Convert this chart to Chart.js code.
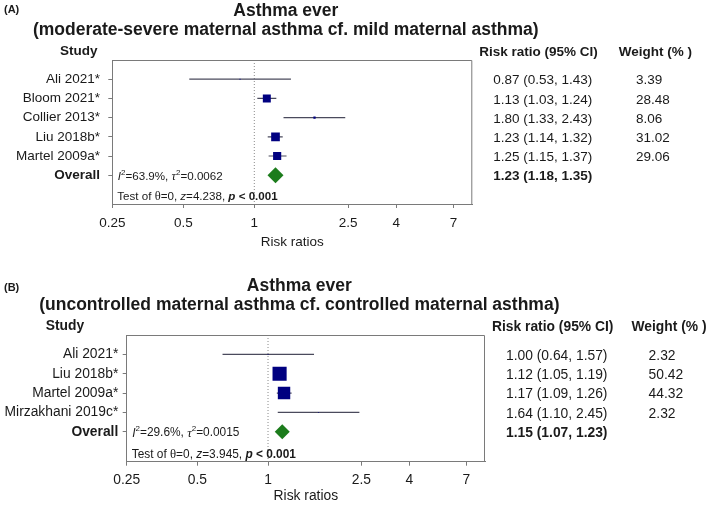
<!DOCTYPE html>
<html><head><meta charset="utf-8">
<script src="https://cdn.jsdelivr.net/npm/chart.js@4.4.0/dist/chart.umd.min.js"></script>
<style>
html,body{margin:0;padding:0;background:#fff;}
.panel{position:relative;width:709px;height:253px;}
</style></head><body>
<div class="panel"><canvas id="chartA"></canvas></div>
<div class="panel"><canvas id="chartB"></canvas></div>
<script>
// ---------- data ----------
const xTickValues = [0.25, 0.5, 1, 2.5, 4, 7];
const xTickLabels = ['0.25', '0.5', '1', '2.5', '4', '7'];

// Panel A: moderate-severe vs mild maternal asthma
const studiesA = ['Ali 2021*', 'Bloom 2021*', 'Collier 2013*', 'Liu 2018b*', 'Martel 2009a*'];
const rrA      = [0.87, 1.13, 1.80, 1.23, 1.25];
const lowA     = [0.53, 1.03, 1.33, 1.14, 1.15];
const highA    = [1.43, 1.24, 2.43, 1.32, 1.37];
const weightA  = [3.39, 28.48, 8.06, 31.02, 29.06];
const overallA = [1.23, 1.18, 1.35];            // RR, low, high
const statsA   = ['63.9%', '0.0062', '4.238', '< 0.001']; // I2, tau2, z, p
const titleA   = ['Asthma ever', '(moderate-severe maternal asthma cf. mild maternal asthma)'];

// Panel B: uncontrolled vs controlled maternal asthma
const studiesB = ['Ali 2021*', 'Liu 2018b*', 'Martel 2009a*', 'Mirzakhani 2019c*'];
const rrB      = [1.00, 1.12, 1.17, 1.64];
const lowB     = [0.64, 1.05, 1.09, 1.10];
const highB    = [1.57, 1.19, 1.26, 2.45];
const weightB  = [2.32, 50.42, 44.32, 2.32];
const overallB = [1.15, 1.07, 1.23];
const statsB   = ['29.6%', '0.0015', '3.945', '< 0.001'];
const titleB   = ['Asthma ever', '(uncontrolled maternal asthma cf. controlled maternal asthma)'];

// ---------- drawing ----------
const FONT = "'Liberation Sans', Arial, sans-serif";
const SERIF = "'Liberation Serif', 'Times New Roman', serif";
const TXT = '#1a1a1a';
const AXIS = '#7a7a7a';

function f(px, style) { return (style ? style + ' ' : '') + px + 'px ' + FONT; }

function rich(ctx, x, y, parts) {
  let cx = x;
  for (const p of parts) {
    ctx.font = p.font;
    ctx.fillText(p.t, cx, y + (p.dy || 0));
    cx += ctx.measureText(p.t).width;
  }
}

function buildChart(id, d, L) {
  const n = d.studies.length;
  const rowLabels = d.studies.concat(['Overall']);
  const yMin = -1, yMax = n + L.yExtra;
  const s = L.fs;               // font scale
  const base = 13.5 * s, small = 11.6 * s;

  const datasets = [];
  datasets.push({
    type: 'scatter', order: 0,
    data: d.rr.map((v, i) => ({x: v, y: i})),
    pointStyle: 'rect',
    pointRadius: d.weight.map(w => Math.max(w * 0.198, 0.6)),
    backgroundColor: '#000080', borderWidth: 0
  });
  datasets.push({
    type: 'scatter', order: 0,
    data: [{x: d.overall[0], y: n}],
    pointStyle: 'rectRot', pointRadius: L.diamond,
    backgroundColor: '#1c7c1c', borderWidth: 0
  });
  d.rr.forEach((v, i) => {
    datasets.push({
      type: 'line', order: 1,
      data: [{x: d.low[i], y: i}, {x: d.high[i], y: i}],
      borderColor: '#4a4a5c', borderWidth: 1.2, pointRadius: 0, fill: false
    });
  });
  datasets.push({
    type: 'line', order: 2,
    data: [{x: 1, y: yMin}, {x: 1, y: yMax}],
    borderColor: '#8a8a8a', borderWidth: 1, borderDash: [1, 2], pointRadius: 0, fill: false
  });

  const textPlugin = {
    id: 'texts' + id,
    afterDraw(chart) {
      const ctx = chart.ctx, ca = chart.chartArea, ys = chart.scales.y;
      ctx.save();
      // box frame (top + right)
      ctx.strokeStyle = AXIS; ctx.lineWidth = 1;
      ctx.beginPath();
      ctx.moveTo(ca.left, ca.top + 0.5); ctx.lineTo(ca.right - 0.5, ca.top + 0.5); ctx.lineTo(ca.right - 0.5, ca.bottom);
      ctx.stroke();

      ctx.fillStyle = TXT; ctx.textBaseline = 'middle';
      // panel label
      ctx.textAlign = 'left'; ctx.font = f(11, 'bold');
      ctx.fillText(L.panel, 4, L.panelY);
      // titles
      ctx.textAlign = 'center'; ctx.font = f(17.5, 'bold');
      const cx = (ca.left + ca.right) / 2 - 6.5;
      ctx.fillText(d.title[0], cx, ca.top - 49);
      ctx.fillText(d.title[1], cx, ca.top - 29.5);
      // headers
      ctx.textAlign = 'left'; ctx.font = f(base, 'bold');
      ctx.fillText('Study', L.studyX, ca.top - 8.5);
      ctx.fillText('Risk ratio (95% CI)', ca.right + 7, ca.top - 7.5);
      ctx.fillText('Weight (% )', ca.right + 146.5, ca.top - 7.5);
      // rows
      ctx.font = f(base);
      d.rr.forEach((v, i) => {
        const y = ys.getPixelForValue(i) + 1.5;
        ctx.fillText(v.toFixed(2) + ' (' + d.low[i].toFixed(2) + ', ' + d.high[i].toFixed(2) + ')', ca.right + 21, y);
        ctx.fillText(d.weight[i].toFixed(2), ca.right + 163.6, y);
      });
      ctx.font = f(base, 'bold');
      ctx.fillText(d.overall[0].toFixed(2) + ' (' + d.overall[1].toFixed(2) + ', ' + d.overall[2].toFixed(2) + ')',
        ca.right + 21, ys.getPixelForValue(n) + 1.5);
      // heterogeneity
      const yo = ys.getPixelForValue(n) + 1.5;
      rich(ctx, ca.left + 5.5, yo, [
        {t: 'I', font: f(small, 'italic')},
        {t: '2', font: f(8), dy: -4},
        {t: '=' + d.stats[0] + ', ', font: f(small)},
        {t: 'τ', font: 'italic ' + (12.5 * s) + 'px ' + SERIF},
        {t: '2', font: f(8), dy: -4},
        {t: '=' + d.stats[1], font: f(small)}
      ]);
      rich(ctx, ca.left + 5, ca.bottom - 7, [
        {t: 'Test of ', font: f(small)},
        {t: 'θ', font: (12.5 * s) + 'px ' + SERIF},
        {t: '=0, ', font: f(small)},
        {t: 'z', font: f(small, 'italic')},
        {t: '=' + d.stats[2] + ', ', font: f(small)},
        {t: 'p', font: f(small, 'italic bold')},
        {t: ' ' + d.stats[3], font: f(small, 'bold')}
      ]);
      ctx.restore();
    }
  };

  return new Chart(document.getElementById(id), {
    type: 'scatter',
    data: {datasets},
    plugins: [textPlugin],
    options: {
      responsive: true, maintainAspectRatio: false, animation: false,
      events: [],
      layout: {padding: {left: 0, right: L.padRight, top: L.padTop, bottom: 0}},
      plugins: {legend: {display: false}, tooltip: {enabled: false}, title: {display: false}},
      scales: {
        x: {
          type: 'logarithmic', position: 'bottom', min: 0.25, max: 8.4,
          afterBuildTicks: sc => { sc.ticks = xTickValues.map(v => ({value: v})); },
          afterFit: sc => { sc.height = L.xAxisH; },
          ticks: {autoSkip: false, maxRotation: 0, color: TXT, padding: L.xTickPad,
                  font: {family: FONT, size: base},
                  callback: (v, i) => xTickLabels[i]},
          grid: {drawOnChartArea: false, drawTicks: true, tickLength: 4, color: AXIS},
          border: {display: true, color: AXIS, width: 1},
          title: {display: true, text: 'Risk ratios', color: TXT,
                  font: {family: FONT, size: base}, padding: {top: 0, bottom: L.xTitlePad}}
        },
        y: {
          type: 'linear', reverse: true, min: yMin, max: yMax,
          afterBuildTicks: sc => { sc.ticks = rowLabels.map((l, i) => ({value: i})); },
          afterFit: sc => { sc.width = L.left; },
          ticks: {autoSkip: false, color: TXT, padding: L.yTickPad,
                  font: c => ({family: FONT, size: base, weight: c.index === n ? 'bold' : 'normal'}),
                  callback: (v, i) => rowLabels[i]},
          grid: {drawOnChartArea: false, drawTicks: true, tickLength: 4, color: AXIS},
          border: {display: true, color: AXIS, width: 1}
        }
      }
    }
  });
}

buildChart('chartA',
  {studies: studiesA, rr: rrA, low: lowA, high: highA, weight: weightA, overall: overallA, stats: statsA, title: titleA},
  {panel: '(A)', panelY: 10, studyX: 60, left: 112.3, padRight: 236.7, padTop: 60, xAxisH: 49, fs: 1,
   xTickPad: 7.5, xTitlePad: 2.5, yTickPad: 8.3, yExtra: 1.5, diamond: 8});

buildChart('chartB',
  {studies: studiesB, rr: rrB, low: lowB, high: highB, weight: weightB, overall: overallB, stats: statsB, title: titleB},
  {panel: '(B)', panelY: 35, studyX: 45.7, left: 126.7, padRight: 224, padTop: 82, xAxisH: 44.3, fs: 1.025,
   xTickPad: 6, xTitlePad: 1.5, yTickPad: 4.4, yExtra: 1.55, diamond: 7.5});
</script>
</body></html>
